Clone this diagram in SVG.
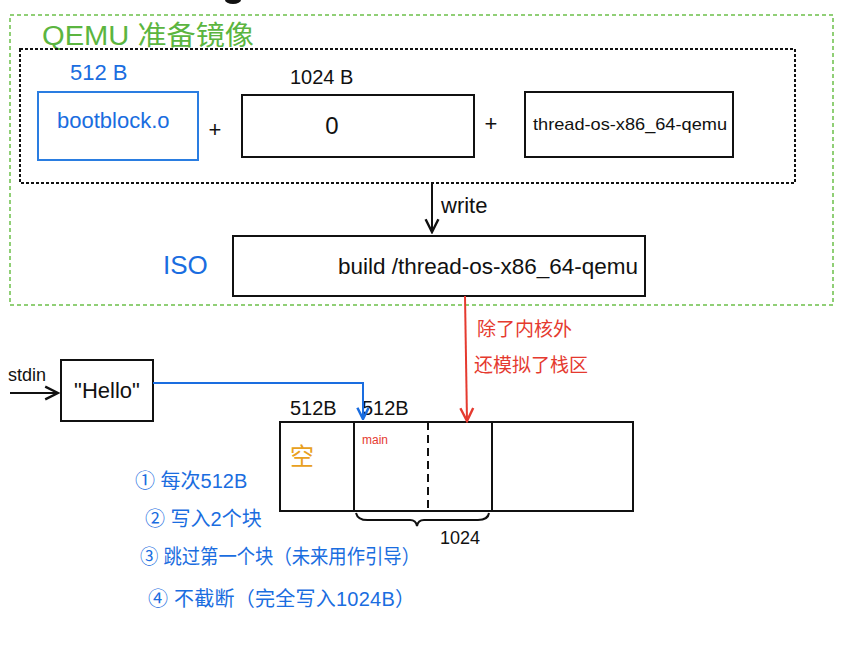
<svg xmlns="http://www.w3.org/2000/svg" width="854" height="666" viewBox="0 0 854 666">
<defs>
<style>
.t{font-family:"Liberation Sans","Noto Sans CJK SC",sans-serif;}
.box{fill:#fff;stroke:#111;stroke-width:2;}
.blue{fill:#1a6de0;}
.blk{fill:#111;}
</style>
<marker id="ab" viewBox="0 0 10 10" refX="9" refY="5" markerWidth="8" markerHeight="8" orient="auto"><path d="M1,1 L9,5 L1,9" fill="none" stroke="#111" stroke-width="1.5"/></marker>
<marker id="abl" viewBox="0 0 10 10" refX="9" refY="5" markerWidth="7" markerHeight="7" orient="auto"><path d="M1,1 L9,5 L1,9" fill="none" stroke="#1a6de0" stroke-width="1.8"/></marker>
<marker id="ar" viewBox="0 0 10 10" refX="9" refY="5" markerWidth="8" markerHeight="8" orient="auto"><path d="M1,1 L9,5 L1,9" fill="none" stroke="#e53a2f" stroke-width="1.5"/></marker>
</defs>
<rect width="854" height="666" fill="#fff"/>
<ellipse cx="233" cy="0" rx="8" ry="4" fill="#111"/>

<g id="qemu-group">
<rect x="10" y="15" width="823" height="290" fill="none" stroke="#6cc04a" stroke-width="1.5" stroke-dasharray="4,3"/>
<text class="t" x="42" y="45" font-size="27" fill="#5bb540" textLength="212" lengthAdjust="spacingAndGlyphs">QEMU 准备镜像</text>
<rect x="20" y="49" width="775" height="134" fill="none" stroke="#111" stroke-width="2" stroke-dasharray="3,2"/>
</g>

<g id="bootblock">
<text class="t blue" x="70" y="80" font-size="22">512 B</text>
<rect x="38" y="92" width="160" height="68" fill="#fff" stroke="#2a7de1" stroke-width="2"/>
<text class="t blue" x="57" y="128" font-size="22">bootblock.o</text>
</g>
<text class="t blk" x="215" y="137" font-size="22" text-anchor="middle">+</text>
<g id="zero">
<text class="t blk" x="290" y="84" font-size="20">1024 B</text>
<rect class="box" x="242" y="95" width="232" height="62"/>
<text class="t blk" x="332" y="134" font-size="24" text-anchor="middle">0</text>
</g>
<text class="t blk" x="491" y="131" font-size="22" text-anchor="middle">+</text>
<g id="kernel">
<rect class="box" x="525" y="92" width="208" height="65"/>
<text class="t blk" x="533" y="130" font-size="17" textLength="194" lengthAdjust="spacingAndGlyphs">thread-os-x86_64-qemu</text>
</g>

<g id="iso">
<text class="t" x="163" y="274" font-size="26" fill="#1a6de0">ISO</text>
<rect class="box" x="233" y="236" width="412" height="60"/>
<text class="t blk" x="338" y="274" font-size="22" textLength="300" lengthAdjust="spacingAndGlyphs">build /thread-os-x86_64-qemu</text>
</g>

<g id="input">
<text class="t blk" x="8" y="381" font-size="18">stdin</text>
<rect class="box" x="61" y="360" width="92" height="61"/>
<text class="t blk" x="107" y="398" font-size="22" text-anchor="middle">"Hello"</text>
</g>

<g id="disk">
<text class="t blk" x="290" y="415" font-size="20">512B</text>
<text class="t blk" x="362" y="415" font-size="20">512B</text>
<rect class="box" x="280" y="422" width="353" height="89"/>
<line x1="354" y1="422" x2="354" y2="511" stroke="#111" stroke-width="2"/>
<line x1="492" y1="422" x2="492" y2="511" stroke="#111" stroke-width="2"/>
<line x1="428" y1="422" x2="428" y2="511" stroke="#111" stroke-width="2" stroke-dasharray="8,5"/>
<text class="t" x="362" y="444" font-size="12" fill="#e53a2f">main</text>
<text class="t" x="290" y="465" font-size="24" fill="#e8a020">空</text>
<path d="M356,513 Q358,521 370,520 L410,520 Q416,520 417,526 Q418,520 424,520 L478,520 Q488,520 489,513" fill="none" stroke="#111" stroke-width="2"/>
<text class="t blk" x="440" y="544" font-size="18">1024</text>
</g>

<g id="notes" class="t" fill="#1a6de0">
<text x="135" y="488" font-size="20">① 每次512B</text>
<text x="145" y="526" font-size="20">② 写入2个块</text>
<text x="140" y="564" font-size="20" textLength="280" lengthAdjust="spacingAndGlyphs">③ 跳过第一个块（未来用作引导）</text>
<text x="148" y="606" font-size="20" textLength="267">④ 不截断（完全写入1024B）</text>
</g>

<g id="connectors">
<line x1="432" y1="183" x2="432" y2="232" stroke="#111" stroke-width="2" marker-end="url(#ab)"/>
<text class="t blk" x="441" y="213" font-size="22">write</text>
<line x1="465" y1="296" x2="467" y2="421" stroke="#e53a2f" stroke-width="2" marker-end="url(#ar)"/>
<text class="t" x="477" y="336" font-size="19" fill="#e53a2f">除了内核外</text>
<text class="t" x="474" y="372" font-size="19" fill="#e53a2f">还模拟了栈区</text>
<line x1="10" y1="393" x2="58" y2="393" stroke="#111" stroke-width="2" marker-end="url(#ab)"/>
<polyline points="153,383 363,383 363,419" fill="none" stroke="#1a6de0" stroke-width="2" marker-end="url(#abl)"/>
</g>
</svg>
